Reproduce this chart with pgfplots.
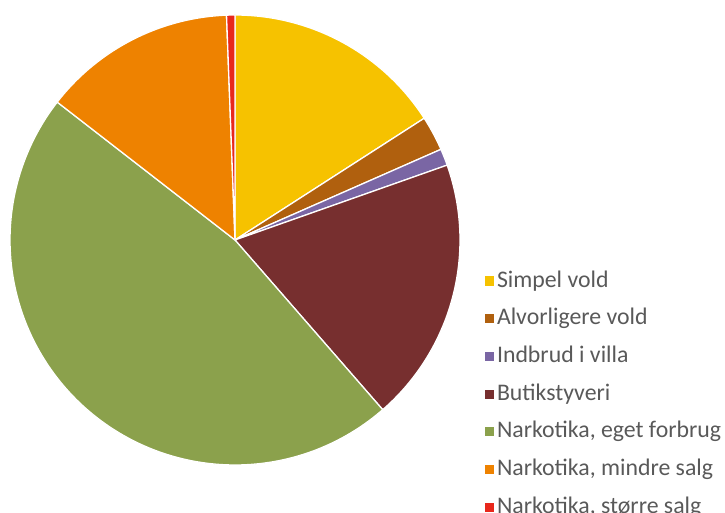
\documentclass[border=0pt]{standalone}
\usepackage{pgfplots}
\pgfplotsset{compat=1.18}
\usepackage{fontspec}
\setmainfont{Carlito}
\definecolor{cSimpel}{HTML}{F6C200}
\definecolor{cAlv}{HTML}{B0600E}
\definecolor{cIndbrud}{HTML}{7A66A4}
\definecolor{cButik}{HTML}{772F2F}
\definecolor{cEget}{HTML}{8BA14C}
\definecolor{cMindre}{HTML}{EE8200}
\definecolor{cStorre}{HTML}{E8281C}
\definecolor{legtext}{HTML}{595959}
% #1 start (percent), #2 value (percent), #3 colour
\newcommand{\pieslice}[3]{%
  \addplot[fill=#3, draw=white, line width=1.3bp, domain=#1:#1+#2, samples=60, smooth=false]
    ({235+225*sin(3.6*x)}, {273+225*cos(3.6*x)}) -- (axis cs:235,273) -- cycle;
}
\begin{document}
\begin{tikzpicture}
\useasboundingbox (0,0) rectangle (725bp,513bp);
\clip (0,0) rectangle (725bp,513bp);
\begin{axis}[
  at={(0,0)}, anchor=south west,
  width=725bp, height=513bp, scale only axis,
  xmin=0, xmax=725, ymin=0, ymax=513,
  hide axis,
  legend cell align=left,
  legend image code/.code={\fill[#1,draw=none] (0bp,-4.5bp) rectangle (9bp,4.5bp);},
  legend style={at={(axis cs:485,243)}, anchor=north west, draw=none, fill=none,
    inner sep=0pt, outer sep=0pt, font=\fontsize{23.8bp}{26bp}\selectfont, text=legtext,
    row sep=15.7bp, column sep=0bp,
    nodes={inner xsep=3bp, inner ysep=0pt, text height=17bp, text depth=5bp}},
]
\pieslice{0}{15.9}{cSimpel}
\addlegendentry{Simpel vold}
\pieslice{15.9}{2.5}{cAlv}
\addlegendentry{Alvorligere vold}
\pieslice{18.4}{1.2}{cIndbrud}
\addlegendentry{Indbrud i villa}
\pieslice{19.6}{19.0}{cButik}
\addlegendentry{Butikstyveri}
\pieslice{38.6}{46.9}{cEget}
\addlegendentry{Narkotika, eget forbrug}
\pieslice{85.5}{13.9}{cMindre}
\addlegendentry{Narkotika, mindre salg}
\pieslice{99.4}{0.6}{cStorre}
\addlegendentry{Narkotika, større salg}
\end{axis}
\end{tikzpicture}
\end{document}
